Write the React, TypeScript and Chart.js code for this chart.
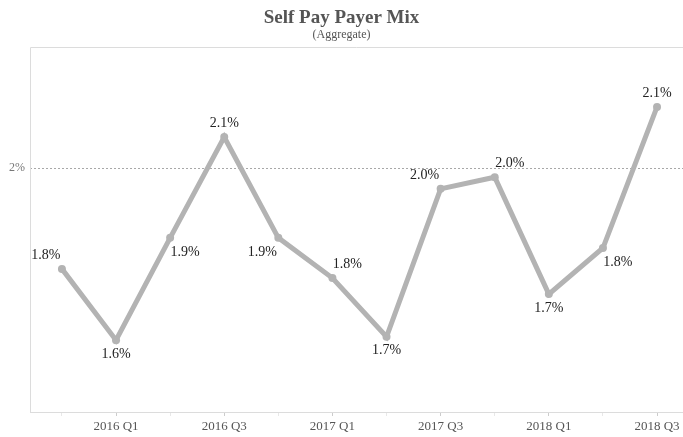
import React, { useEffect, useRef } from "react";
import { Chart, registerables } from "chart.js";

Chart.register(...registerables);

const quarters = [
  "2015 Q4", "2016 Q1", "2016 Q2", "2016 Q3", "2016 Q4", "2017 Q1",
  "2017 Q2", "2017 Q3", "2017 Q4", "2018 Q1", "2018 Q2", "2018 Q3",
];
const selfPayPct = [1.792, 1.645, 1.856, 2.064, 1.856, 1.773, 1.652, 1.957, 1.981, 1.740, 1.835, 2.126];
const labelPlacement = ["tl", "b", "br", "t", "bl", "tr", "b", "tl", "tr", "b", "br", "t"];
const yTickValues = [2];

const TITLE = "Self Pay Payer Mix";
const SUBTITLE = "(Aggregate)";
const SERIF = "'Liberation Serif', 'Times New Roman', serif";

const chromePlugin = {
  id: "chrome",
  beforeDatasetsDraw(chart: any) {
    const { ctx, chartArea } = chart;
    ctx.save();
    ctx.strokeStyle = "#dcdcdc";
    ctx.lineWidth = 1;
    ctx.beginPath();
    ctx.moveTo(chartArea.left + 0.5, chartArea.bottom);
    ctx.lineTo(chartArea.left + 0.5, chartArea.top + 0.5);
    ctx.lineTo(chart.width, chartArea.top + 0.5);
    ctx.stroke();
    ctx.restore();
  },
  afterDraw(chart: any) {
    const { ctx, width } = chart;
    ctx.save();
    ctx.textAlign = "center";
    ctx.textBaseline = "middle";
    ctx.fillStyle = "#555555";
    ctx.font = `bold 19px ${SERIF}`;
    ctx.fillText(TITLE, width / 2, 18);
    ctx.font = `12px ${SERIF}`;
    ctx.fillText(SUBTITLE, width / 2, 35);
    ctx.restore();
  },
};

const labelPlugin = {
  id: "pointLabels",
  afterDatasetsDraw(chart: any) {
    const { ctx } = chart;
    const meta = chart.getDatasetMeta(0);
    ctx.save();
    ctx.font = `14px ${SERIF}`;
    ctx.fillStyle = "#222222";
    ctx.textAlign = "center";
    ctx.textBaseline = "middle";
    meta.data.forEach((pt: any, i: number) => {
      const v = selfPayPct[i];
      const text = v.toFixed(1) + "%";
      const p = labelPlacement[i];
      let dx = 0;
      let dy = 0;
      if (p.includes("t")) dy = -14;
      if (p.includes("b")) dy = 14;
      if (p.includes("l")) dx = -16;
      if (p.includes("r")) dx = 15;
      ctx.fillText(text, pt.x + dx, pt.y + dy);
    });
    ctx.restore();
  },
};

const zeroPad = (scale: any) => {
  scale.paddingLeft = 0;
  scale.paddingRight = 0;
  scale.paddingTop = 0;
  scale.paddingBottom = 0;
};

export default function App() {
  const canvasRef = useRef<HTMLCanvasElement | null>(null);

  useEffect(() => {
    document.body.style.margin = "0";
    const canvas = canvasRef.current;
    if (!canvas) return;
    const chart = new Chart(canvas, {
      type: "line",
      data: {
        datasets: [
          {
            label: "Self Pay",
            data: selfPayPct.map((v, i) => ({ x: i, y: v })),
            borderColor: "#b3b3b3",
            backgroundColor: "#b3b3b3",
            borderWidth: 5,
            pointRadius: 4,
            pointHoverRadius: 4,
            pointBorderWidth: 0,
            tension: 0,
            clip: false,
          },
        ],
      },
      options: {
        responsive: false,
        animation: false,
        events: [],
        layout: { autoPadding: false, padding: { top: 47, left: 0, right: 0, bottom: 0 } },
        plugins: {
          legend: { display: false },
          tooltip: { enabled: false },
          title: { display: false },
        },
        scales: {
          x: {
            type: "linear",
            min: -0.59,
            max: 11.48,
            afterBuildTicks: (scale: any) => {
              scale.ticks = quarters.map((_, i) => ({ value: i }));
            },
            afterFit: (scale: any) => {
              scale.height = 25;
              zeroPad(scale);
            },
            afterUpdate: (scale: any) => zeroPad(scale),
            border: { display: true, color: "#dcdcdc", width: 1 },
            grid: {
              drawOnChartArea: false,
              drawTicks: true,
              tickLength: 4,
              tickColor: (c: any) => (c.tick && c.tick.value % 2 === 1 ? "#cccccc" : "#e8e8e8"),
            },
            ticks: {
              autoSkip: false,
              maxRotation: 0,
              padding: 3,
              color: "#555555",
              font: { family: SERIF, size: 13 },
              callback: (value: any) => {
                const i = Number(value);
                return i % 2 === 1 ? quarters[i] : "";
              },
            },
          },
          y: {
            type: "linear",
            min: 1.4969,
            max: 2.2495,
            afterBuildTicks: (scale: any) => {
              scale.ticks = yTickValues.map((v) => ({ value: v }));
            },
            afterFit: (scale: any) => {
              scale.width = 30;
              zeroPad(scale);
            },
            afterUpdate: (scale: any) => zeroPad(scale),
            border: { display: false, dash: [2, 2] },
            grid: {
              drawTicks: false,
              color: "#a8a8a8",
              lineWidth: 1,
            },
            ticks: {
              padding: 5,
              color: "#777777",
              font: { family: SERIF, size: 12 },
              callback: (value: any) => `${Math.round(Number(value))}%`,
            },
          },
        },
      },
      plugins: [chromePlugin, labelPlugin],
    } as any);
    return () => chart.destroy();
  }, []);

  return (
    <div style={{ position: "fixed", left: 0, top: 0, width: 683, height: 437, background: "#ffffff" }}>
      <canvas ref={canvasRef} width={683} height={437} style={{ width: 683, height: 437 }} />
    </div>
  );
}
